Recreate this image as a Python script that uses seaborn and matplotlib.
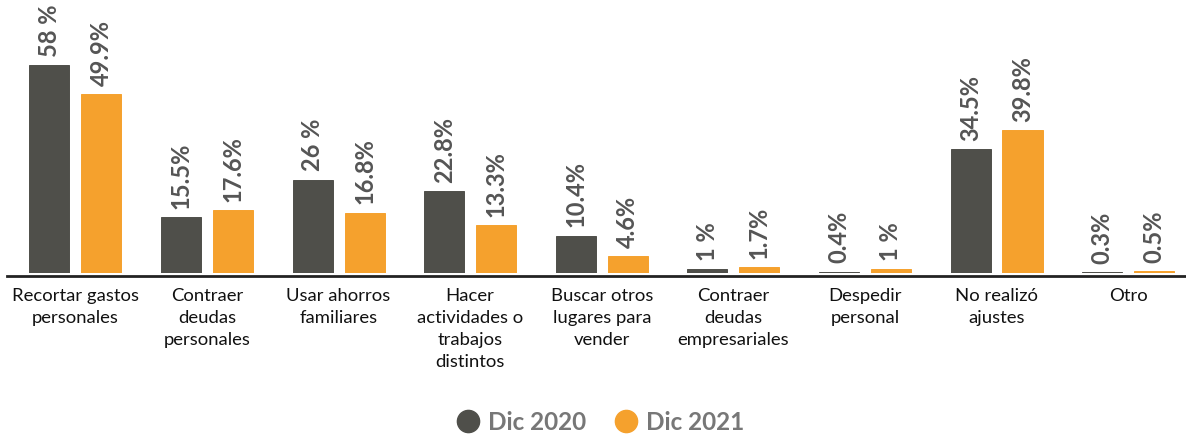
import matplotlib
matplotlib.use("Agg")
import matplotlib.pyplot as plt
from matplotlib.lines import Line2D
import seaborn as sns
import pandas as pd

categories = [
    "Recortar gastos\npersonales",
    "Contraer\ndeudas\npersonales",
    "Usar ahorros\nfamiliares",
    "Hacer\nactividades o\ntrabajos\ndistintos",
    "Buscar otros\nlugares para\nvender",
    "Contraer\ndeudas\nempresariales",
    "Despedir\npersonal",
    "No realizó\najustes",
    "Otro",
]
dic_2020 = [58, 15.5, 26, 22.8, 10.4, 1, 0.4, 34.5, 0.3]
dic_2021 = [49.9, 17.6, 16.8, 13.3, 4.6, 1.7, 1, 39.8, 0.5]
series_names = ["Dic 2020", "Dic 2021"]
colors = ["#4f4f4a", "#f5a12d"]

df = pd.DataFrame({
    "categoria": categories * 2,
    "valor": dic_2020 + dic_2021,
    "serie": [series_names[0]] * len(categories) + [series_names[1]] * len(categories),
})

sns.set_theme(style="white")
plt.rcParams["font.family"] = ["Lato", "DejaVu Sans"]

W, H = 1186, 436
fig = plt.figure(figsize=(W / 100, H / 100), dpi=100)
ax = fig.add_axes([7 / W, 1 - 273 / H, (W - 7) / W, 273 / H])

sns.barplot(data=df, x="categoria", y="valor", hue="serie", order=categories,
            hue_order=series_names, palette=colors, width=0.79, gap=0.23,
            saturation=1, legend=False, ax=ax)

# thin outline in the fill colour keeps the tiniest bars visible
for container, c in zip(ax.containers, colors):
    for bar in container:
        bar.set_edgecolor(c)
        bar.set_linewidth(0.7)

def fmt(v):
    return f"{int(v)} %" if float(v).is_integer() else f"{v}%"

for container in ax.containers:
    for bar in container:
        h = bar.get_height()
        ax.annotate(fmt(h), (bar.get_x() + bar.get_width() / 2, h),
                    xytext=(0, 6), textcoords="offset points",
                    rotation=90, ha="center", va="bottom",
                    fontsize=17, fontweight="bold", color="#555555")

ax.set_ylim(0, 76.1)
ax.set_xlim(-0.52, 8.44)
ax.set_xlabel("")
ax.set_ylabel("")
ax.set_yticks([])
for s in ["top", "right", "left"]:
    ax.spines[s].set_visible(False)
ax.spines["bottom"].set_color("#222222")
ax.spines["bottom"].set_linewidth(2)
ax.spines["bottom"].set_position(("outward", 2.5))
ax.tick_params(axis="x", length=0, pad=8, labelsize=13.3, labelcolor="#111111")
for lbl in ax.get_xticklabels():
    lbl.set_linespacing(1.46)
    lbl.set_verticalalignment("top")

handles = [Line2D([0], [0], marker="o", linestyle="", markersize=16,
                  markerfacecolor=c, markeredgecolor=c) for c in colors]
leg = fig.legend(handles, series_names, loc="center", bbox_to_anchor=(597 / W, 1 - 422 / H),
                 ncol=2, frameon=False, handletextpad=0.05, columnspacing=0.9,
                 handlelength=1.5, prop={"size": 17.5, "weight": "bold"})
for t in leg.get_texts():
    t.set_color("#777777")

fig.savefig("out.png", dpi=100)
